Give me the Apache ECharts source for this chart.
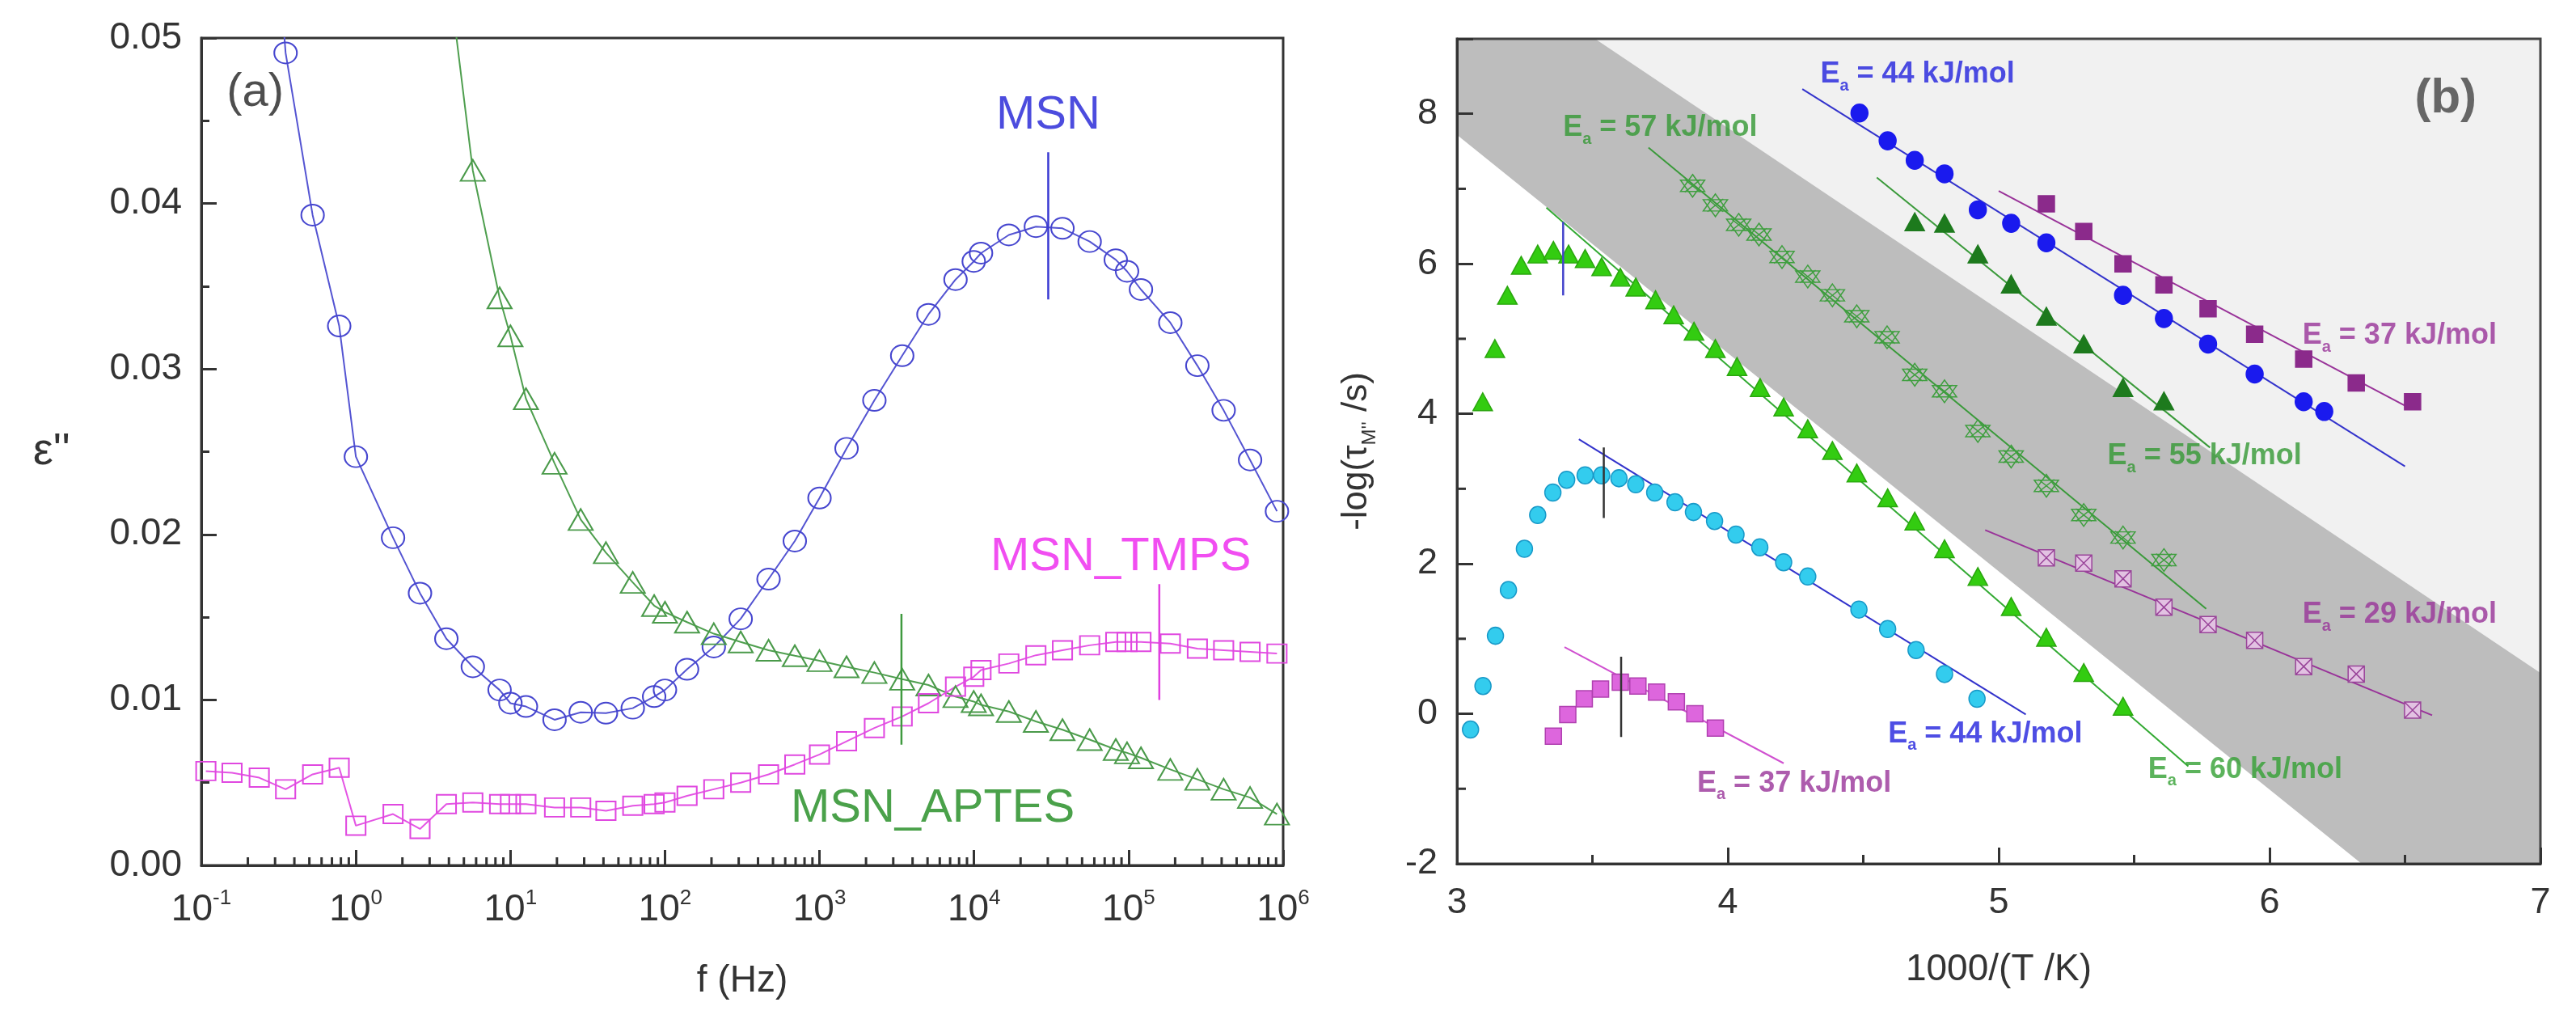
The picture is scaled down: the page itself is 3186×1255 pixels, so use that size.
<!DOCTYPE html>
<html>
<head>
<meta charset="utf-8">
<title>Dielectric loss and relaxation map</title>
<script src="https://cdn.jsdelivr.net/npm/echarts@6.0.0/dist/echarts.min.js"></script>
<style>
  html, body { margin: 0; padding: 0; background: #fff; }
  #main { width: 3186px; height: 1255px; }
</style>
</head>
<body>
<div id="main"></div>
<script>
const FONT = '"Liberation Sans", Arial, sans-serif';

// ---------- panel (a): loss vs frequency ----------
const freqHz = [0.107, 0.158, 0.237, 0.351, 0.525, 0.780, 1.0, 1.74, 2.60, 3.85, 5.71, 8.51, 10, 12.6,
  19.3, 28.5, 41.5, 61.9, 85.1, 100, 139, 207, 309, 468, 692, 1000, 1496, 2265, 3428, 5070, 7586,
  9954, 11090, 16790, 25120, 37330, 55980, 82600, 97720, 120200, 186200, 278600, 412100, 610900, 912000];

const epsMSN = [null, null, 0.070, 0.0491, 0.0393, 0.0326, 0.0247, 0.0198, 0.01645, 0.0137, 0.0120,
  0.0106, 0.0098, 0.0096, 0.0088, 0.00925, 0.0092, 0.0095, 0.0102, 0.0106, 0.01185, 0.0132, 0.0149,
  0.0173, 0.0196, 0.0222, 0.0252, 0.0281, 0.0308, 0.0333, 0.0354, 0.0365, 0.0370, 0.0381, 0.0386,
  0.0385, 0.0377, 0.0366, 0.0359, 0.0348, 0.0328, 0.0302, 0.0275, 0.0245, 0.0214];

const epsAPTES = [null, null, null, null, null, null, null, null, null, 0.055, 0.0420, 0.0343, 0.0320,
  0.0282, 0.0243, 0.0209, 0.0189, 0.0171, 0.0157, 0.0153, 0.0147, 0.0140, 0.0135, 0.0130, 0.01267,
  0.01237, 0.0120, 0.01165, 0.01125, 0.0109, 0.0102, 0.0099, 0.0097, 0.0093, 0.0087, 0.0082, 0.0076,
  0.0070, 0.0068, 0.0065, 0.0058, 0.0052, 0.0046, 0.0041, 0.0031];

const epsTMPS = [0.0057, 0.0056, 0.0053, 0.0046, 0.0055, 0.0059, 0.0024, 0.0031, 0.0022, 0.0037,
  0.0038, 0.0037, 0.0037, 0.0037, 0.0035, 0.0035, 0.0033, 0.0036, 0.0037, 0.0038, 0.0042, 0.0046,
  0.0050, 0.0055, 0.0061, 0.0067, 0.0075, 0.0083, 0.0090, 0.0098, 0.0108, 0.0114, 0.0118, 0.0122,
  0.0127, 0.0130, 0.0133, 0.0135, 0.0135, 0.0135, 0.0134, 0.0131, 0.0130, 0.0129, 0.0128];

// peak position markers (MSN, APTES, TMPS)
const peakFreq = [30200, 3390, 158000];
const peakLow = [0.0342, 0.0073, 0.0100];
const peakHigh = [0.0431, 0.0152, 0.0170];
const peakColor = ['#3a3ad2', '#3f9a3f', '#e040e0'];

// text in panel (a)
const aText = ['MSN', 'MSN_TMPS', 'MSN_APTES', '(a)'];
const aFreq = [30200, 89000, 5400, 0.223];
const aEps = [0.0453, 0.0186, 0.0034, 0.0467];
const aColor = ['#1f1fd6', '#ee22ee', '#1d8a1d', '#222'];

// ---------- panel (b): relaxation map ----------
const cyanX = [3.05, 3.096, 3.142, 3.19, 3.249, 3.298, 3.354, 3.405, 3.473, 3.534, 3.598, 3.66, 3.73,
  3.805, 3.873, 3.951, 4.03, 4.118, 4.206, 4.295, 4.484, 4.59, 4.695, 4.80, 4.92];
const cyanY = [-0.21, 0.37, 1.04, 1.65, 2.20, 2.65, 2.95, 3.12, 3.18, 3.18, 3.14, 3.06, 2.95, 2.82,
  2.69, 2.57, 2.39, 2.22, 2.02, 1.83, 1.39, 1.13, 0.85, 0.53, 0.20];

const limeX = [3.095, 3.14, 3.186, 3.237, 3.298, 3.356, 3.412, 3.473, 3.534, 3.603, 3.66, 3.733, 3.80,
  3.875, 3.954, 4.034, 4.119, 4.206, 4.295, 4.386, 4.476, 4.59, 4.69, 4.80, 4.923, 5.046, 5.176, 5.314, 5.459];
const limeY = [4.16, 4.87, 5.58, 5.98, 6.13, 6.18, 6.13, 6.07, 5.96, 5.82, 5.69, 5.52, 5.32, 5.10,
  4.87, 4.63, 4.35, 4.09, 3.80, 3.51, 3.21, 2.88, 2.57, 2.20, 1.83, 1.43, 1.02, 0.55, 0.10];

const pinkX = [3.356, 3.409, 3.47, 3.53, 3.603, 3.668, 3.737, 3.81, 3.878, 3.954];
const pinkY = [-0.30, -0.01, 0.20, 0.33, 0.42, 0.37, 0.29, 0.16, 0.0, -0.19];

const starX = [3.87, 3.954, 4.04, 4.115, 4.2, 4.295, 4.386, 4.476, 4.588, 4.69, 4.80, 4.923, 5.046,
  5.176, 5.314, 5.459, 5.61];
const starY = [7.04, 6.78, 6.52, 6.39, 6.09, 5.83, 5.58, 5.30, 5.02, 4.52, 4.30, 3.77, 3.43, 3.04,
  2.65, 2.35, 2.05];

const dkGreenX = [4.69, 4.80, 4.923, 5.046, 5.176, 5.314, 5.459, 5.61];
const dkGreenY = [6.56, 6.54, 6.13, 5.73, 5.30, 4.93, 4.35, 4.17];

const blueX = [4.486, 4.59, 4.69, 4.80, 4.923, 5.046, 5.176, 5.459, 5.61, 5.773, 5.945, 6.126, 6.202];
const blueY = [8.01, 7.64, 7.38, 7.20, 6.72, 6.54, 6.28, 5.58, 5.27, 4.93, 4.53, 4.16, 4.03];

const purpleX = [5.176, 5.314, 5.459, 5.61, 5.773, 5.945, 6.126, 6.32, 6.528];
const purpleY = [6.80, 6.43, 6.00, 5.72, 5.40, 5.06, 4.73, 4.41, 4.16];

const hatchX = [5.176, 5.314, 5.459, 5.61, 5.773, 5.945, 6.126, 6.32, 6.528];
const hatchY = [2.08, 2.01, 1.80, 1.42, 1.19, 0.98, 0.63, 0.53, 0.05];

// Arrhenius fit lines: start / end points
const fitX0 = [3.45, 3.397, 3.33, 3.707, 4.55, 4.275, 5.0, 4.95];
const fitY0 = [3.66, 0.89, 6.75, 7.55, 7.15, 8.33, 6.97, 2.45];
const fitX1 = [5.10, 4.206, 5.70, 5.766, 5.78, 6.50, 6.52, 6.60];
const fitY1 = [-0.01, -0.66, -0.70, 1.40, 3.55, 3.30, 4.07, -0.02];
const fitColor = ['#3333cc', '#d050d0', '#33aa33', '#3a9a3a', '#3a9a3a', '#3333cc', '#993399', '#993399'];

// vertical markers at the maxima
const vX = [3.392, 3.542, 3.606];
const vLow = [5.58, 2.61, -0.31];
const vHigh = [6.56, 3.55, 0.76];
const vColor = ['#4444cc', '#333', '#333'];

// shaded band (dark) and the lighter area above it
const bandDarkX = [3, 3.51, 7, 7, 6.34, 3];
const bandDarkY = [9, 9, 0.545, -2, -2, 7.72];
const bandLightX = [3.51, 7, 7];
const bandLightY = [9, 9, 0.545];

// activation energy labels
const eaValue = ['44', '57', '37', '55', '29', '44', '60', '37'];
const eaX = [4.34, 3.39, 6.12, 5.40, 6.12, 4.59, 5.55, 3.885];
const eaY = [8.52, 7.81, 5.04, 3.43, 1.32, -0.27, -0.745, -0.93];
const eaColor = ['#2222dd', '#339933', '#993399', '#339933', '#993399', '#2222dd', '#33a033', '#993399'];

// minor ticks of panel (b) y axis
const bMinorY = [-1, 1, 3, 5, 7];

// ---------- helpers ----------
function pairs(xs, ys) {
  return xs.map((x, i) => [x, ys[i]]).filter(p => p[1] !== null);
}

const minorLogTicks = [];
for (let e = -1; e < 6; e++) {
  for (let m = 2; m <= 9; m++) minorLogTicks.push([m * Math.pow(10, e), 0]);
}

const series = [];

// panel (a) curves
[
  { name: 'MSN', y: epsMSN, symbol: 'circle', size: [28, 26], color: '#4646cf', line: '#5454d2' },
  { name: 'MSN_APTES', y: epsAPTES, symbol: 'triangle', size: [30, 26], color: '#4a9a4a', line: '#4f9f4f' },
  { name: 'MSN_TMPS', y: epsTMPS, symbol: 'rect', size: [24, 23], color: '#e048e0', line: '#e455e4' }
].forEach(s => {
  series.push({
    type: 'line', name: s.name, xAxisIndex: 0, yAxisIndex: 0,
    data: pairs(freqHz, s.y),
    symbol: s.symbol, symbolSize: s.size,
    itemStyle: { color: 'rgba(255,255,255,0)', borderColor: s.color, borderWidth: 2 },
    lineStyle: { color: s.line, width: 2 },
    clip: true, z: 3
  });
});

peakFreq.forEach((f, i) => {
  series.push({
    type: 'line', xAxisIndex: 0, yAxisIndex: 0, symbol: 'none',
    data: [[f, peakLow[i]], [f, peakHigh[i]]],
    lineStyle: { color: peakColor[i], width: 2.5 }, z: 4
  });
});

series.push({
  type: 'scatter', xAxisIndex: 0, yAxisIndex: 0, symbolSize: 1,
  itemStyle: { color: 'rgba(0,0,0,0)' },
  data: aText.map((t, i) => ({
    value: [aFreq[i], aEps[i]],
    label: {
      show: true, position: 'inside', formatter: t, color: aColor[i],
      fontSize: i === 3 ? 58 : 58, fontFamily: FONT
    }
  })),
  z: 5
});

series.push({
  type: 'custom', xAxisIndex: 0, yAxisIndex: 0, silent: true, clip: false,
  data: minorLogTicks, encode: { x: 0, y: 1 },
  renderItem: (params, api) => {
    const p = api.coord([api.value(0), 0]);
    return { type: 'line', shape: { x1: p[0], y1: p[1], x2: p[0], y2: p[1] - 10 },
      style: { stroke: '#333', lineWidth: 3 } };
  },
  z: 6
});

// panel (b) background band
series.push({
  type: 'custom', xAxisIndex: 1, yAxisIndex: 1, silent: true, clip: false, z: -1,
  data: [[bandLightX[0], bandLightY[0], 0], [bandDarkX[0], bandDarkY[0], 1]],
  encode: { x: 0, y: 1 },
  renderItem: (params, api) => {
    const dark = api.value(2) === 1;
    const xs = dark ? bandDarkX : bandLightX;
    const ys = dark ? bandDarkY : bandLightY;
    return { type: 'polygon', shape: { points: xs.map((x, i) => api.coord([x, ys[i]])) },
      style: { fill: dark ? '#bdbdbd' : '#f1f1f1' } };
  }
});

// panel (b) y minor ticks
series.push({
  type: 'custom', xAxisIndex: 1, yAxisIndex: 1, silent: true, clip: false,
  data: bMinorY.map(v => [3, v]), encode: { x: 0, y: 1 },
  renderItem: (params, api) => {
    const p = api.coord([3, api.value(1)]);
    return { type: 'line', shape: { x1: p[0], y1: p[1], x2: p[0] + 11, y2: p[1] },
      style: { stroke: '#333', lineWidth: 3 } };
  },
  z: 6
});

// fit lines
fitX0.forEach((x, i) => {
  series.push({
    type: 'line', xAxisIndex: 1, yAxisIndex: 1, symbol: 'none',
    data: [[x, fitY0[i]], [fitX1[i], fitY1[i]]],
    lineStyle: { color: fitColor[i], width: 2 }, z: 2
  });
});

vX.forEach((x, i) => {
  series.push({
    type: 'line', xAxisIndex: 1, yAxisIndex: 1, symbol: 'none',
    data: [[x, vLow[i]], [x, vHigh[i]]],
    lineStyle: { color: vColor[i], width: 2.5 }, z: 4
  });
});

const starPath = 'path://M50,0L93,75L7,75Z M50,100L7,25L93,25Z M22,22L78,78 M78,22L22,78';
const hatchPath = 'path://M0,0L20,0L20,20L0,20Z M0,0L20,20 M20,0L0,20';

[
  { x: cyanX, y: cyanY, symbol: 'circle', size: [20, 21], color: '#33ccee', border: '#1899c8' },
  { x: limeX, y: limeY, symbol: 'triangle', size: [24, 22], color: '#33cc11', border: '#2aa60e' },
  { x: pinkX, y: pinkY, symbol: 'rect', size: [20, 20], color: '#dd66dd', border: '#b040b0' },
  { x: starX, y: starY, symbol: starPath, size: [30, 28], color: 'rgba(255,255,255,0)', border: '#3f9f3f' },
  { x: dkGreenX, y: dkGreenY, symbol: 'triangle', size: [24, 22], color: '#1d7a1d', border: '#1d7a1d' },
  { x: blueX, y: blueY, symbol: 'circle', size: [21, 22], color: '#1a1aee', border: '#1a1aee' },
  { x: purpleX, y: purpleY, symbol: 'rect', size: [20, 20], color: '#8b2a8b', border: '#8b2a8b' },
  { x: hatchX, y: hatchY, symbol: hatchPath, size: [20, 20], color: '#e2c2e2', border: '#994499' }
].forEach(s => {
  series.push({
    type: 'scatter', xAxisIndex: 1, yAxisIndex: 1,
    data: pairs(s.x, s.y), symbol: s.symbol, symbolSize: s.size,
    itemStyle: { color: s.color, borderColor: s.border, borderWidth: 1.5, opacity: 1 },
    z: 3
  });
});

series.push({
  type: 'scatter', xAxisIndex: 1, yAxisIndex: 1, symbolSize: 1,
  itemStyle: { color: 'rgba(0,0,0,0)' },
  data: eaValue.map((v, i) => ({
    value: [eaX[i], eaY[i]],
    label: {
      show: true, position: 'right', distance: 0,
      formatter: '{e|E}{a|a}{e| = ' + v + ' kJ/mol}',
      color: eaColor[i],
      rich: {
        e: { fontSize: 36, fontWeight: 'bold', fontFamily: FONT, lineHeight: 48 },
        a: { fontSize: 20, fontWeight: 'bold', fontFamily: FONT, verticalAlign: 'bottom', lineHeight: 48 }
      }
    }
  })).concat([{
    value: [6.65, 8.2],
    label: { show: true, position: 'inside', formatter: '(b)', color: '#444',
      fontSize: 60, fontWeight: 'bold', fontFamily: FONT }
  }]),
  z: 5
});

const axisLine = { onZero: false, lineStyle: { color: '#333', width: 3 } };

const option = {
  animation: false,
  backgroundColor: '#ffffff',
  textStyle: { fontFamily: FONT },
  grid: [
    { left: 249, top: 47, width: 1338, height: 1023, show: true, borderColor: '#333', borderWidth: 3, backgroundColor: 'transparent' },
    { left: 1802, top: 48, width: 1340, height: 1020, show: true, borderColor: '#444', borderWidth: 3, backgroundColor: 'transparent' }
  ],
  xAxis: [
    {
      gridIndex: 0, type: 'log', logBase: 10, min: 0.1, max: 1e6, splitNumber: 7,
      name: 'f (Hz)', nameLocation: 'middle', nameGap: 120,
      nameTextStyle: { fontSize: 46, color: '#333', fontFamily: FONT },
      axisLine: axisLine,
      axisTick: { inside: true, length: 19, lineStyle: { color: '#333', width: 3 } },
      axisLabel: {
        margin: 28, color: '#333',
        formatter: v => '{b|10}{s|' + Math.round(Math.log10(v)) + '}',
        rich: {
          b: { fontSize: 46, fontFamily: FONT, color: '#333', lineHeight: 54 },
          s: { fontSize: 26, fontFamily: FONT, color: '#333', verticalAlign: 'top', lineHeight: 54 }
        }
      },
      splitLine: { show: false }
    },
    {
      gridIndex: 1, type: 'value', min: 3, max: 7, interval: 1,
      name: '1000/(T /K)', nameLocation: 'middle', nameGap: 108,
      nameTextStyle: { fontSize: 46, color: '#333', fontFamily: FONT },
      axisLine: axisLine,
      axisTick: { inside: true, length: 20, lineStyle: { color: '#333', width: 3 } },
      minorTick: { show: true, splitNumber: 2, length: 11, lineStyle: { color: '#333', width: 3 } },
      axisLabel: { margin: 26, fontSize: 45, color: '#333' },
      splitLine: { show: false }
    }
  ],
  yAxis: [
    {
      gridIndex: 0, type: 'value', min: 0, max: 0.05, interval: 0.01,
      name: "\u03b5''", nameLocation: 'middle', nameRotate: 0, nameGap: 162,
      nameTextStyle: { fontSize: 56, color: '#333', fontFamily: FONT },
      axisLine: axisLine,
      axisTick: { inside: true, length: 19, lineStyle: { color: '#333', width: 3 } },
      minorTick: { show: true, splitNumber: 2, length: 10, lineStyle: { color: '#333', width: 3 } },
      axisLabel: { margin: 24, fontSize: 46, color: '#333', formatter: v => v.toFixed(2) },
      splitLine: { show: false }
    },
    {
      gridIndex: 1, type: 'value', min: -2, max: 9, interval: 2,
      name: "-log(\u03c4{s|M''} /s)", nameLocation: 'middle', nameGap: 96,
      nameTextStyle: {
        fontSize: 44, color: '#333', fontFamily: FONT,
        rich: { s: { fontSize: 24, fontFamily: FONT, color: '#333', verticalAlign: 'bottom', lineHeight: 56 } }
      },
      axisLine: axisLine,
      axisTick: { inside: true, length: 20, lineStyle: { color: '#333', width: 3 } },
      axisLabel: { margin: 24, fontSize: 45, color: '#333', formatter: v => (v > 8 ? '' : String(v)) },
      splitLine: { show: false }
    }
  ],
  series: series
};

const chart = echarts.init(document.getElementById('main'), null, { renderer: 'canvas' });
chart.setOption(option);
</script>
</body>
</html>
